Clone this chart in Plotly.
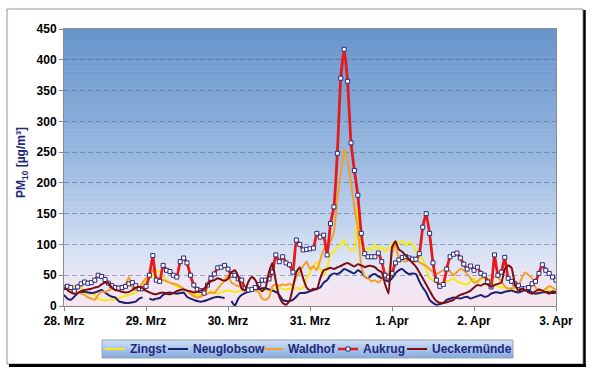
import plotly.graph_objects as go
import pandas as pd

# ---------------- data (hourly PM10 values, 28 Mar 00:00 -> 3 Apr 00:00) ----------------
START = "2008-03-28 00:00"
HOURS = 145

zingst = [
    28, 30, 30, 32, 33, 30, 22, 20, 20, 18,
    12, 10, 9, 10, 10, 11, 13, 15, 16, 18,
    20, 22, 25, 30, 40, 45, 50, 58, 55, 48,
    42, 38, 35, 32, 30, 28, 25, 22, 20, 18,
    18, 20, 22, 24, 22, 20, 22, 24, 25, 24,
    22, 24, 25, 26, 27, 26, 25, 27, 28, 26,
    25, 27, 29, 30, 28, 27, 28, 30, 29, 28,
    30, 45, 55, 63, 72, 60, 50, 60, 85, 88,
    96, 100, 107, 95, 90, 91, 165, 100, 88, 95,
    90, 100, 92, 96, 88, 95, 100, 105, 102, 106,
    98, 104, 100, 90, 80, 76, 60, 45, 42, 38,
    37, 38, 40, 42, 45, 40, 38, 36, 35, 40,
    45, 38, 42, 48, 45, 40, 35, 32, 30, 30,
    28, 26, 25, 24, 26, 28, 25, 22, 20, 20,
    24, 28, 26, 24, 22,
]

neuglobsow = [
    18, 12, 10, 15, 21, 22, 23, 22, 21, 22,
    24, 26, 22, 18, 15, 14, 8, 6, 5, 5,
    6, 7, 12, 14, None, 12, 10, 12, 13, 18,
    21, 22, 21, 20, 21, 22, 15, 12, 10, 8,
    7, 8, 10, 12, 14, 15, 14, 13, None, 8,
    0, 12, 18, 21, 23, 25, 26, 28, 29, 29,
    27, 25, 23, 18, 10, 8, 8, 10, 15, 21,
    21, 22, 24, 26, 28, 30, 38, 42, 50, 53,
    52, 55, 60, 58, 55, 53, 58, 55, 48, 45,
    50, 52, 48, 45, 42, 40, 45, 53, 58, 60,
    55, 52, 53, 52, 40, 30, 22, 10, 5, 2,
    3, 5, 10, 12, 14, 13, 12, 14, 15, 12,
    14, 16, 18, 15, 16, 20, 22, 22, 21, 23,
    24, 25, 23, 22, 24, 26, 25, 22, 20, 21,
    22, 23, 22, 21, 22,
]

waldhof = [
    30, 32, 28, 23, 22, 20, 18, 14, 12, 10,
    18, 23, 23, 25, 28, 29, 29, 30, 35, 47,
    30, 26, 30, 38, 45, 50, 58, 48, 44, 42,
    40, 38, 36, 35, 32, 28, 25, 20, 16, 14,
    15, 18, 20, 22, 21, 28, 35, 42, 50, 38,
    35, 32, 33, 30, 27, 25, 26, 22, 12, 10,
    14, 32, 35, 33, 35, 34, 36, 33, 48, 55,
    65, 72, 60, 65, 58, 75, 92, 100, 105, 120,
    175, 215, 255, 235, 200, 160, 125, 65, 48, 45,
    40, 42, 38, 43, 45, 50, 85, 100, 78, 74,
    72, 75, 70, 73, 71, 68, 65, 60, 55, 52,
    55, 58, 60, 56, 50, 55, 60, 58, 52, 45,
    38, 40, 45, 48, 44, 42, 48, 46, 40, 32,
    28, 29, 30, 32, 46, 55, 50, 45, 30, 26,
    24, 28, 32, 30, 26,
]

aukrug = [
    30, 32, 30, 24, 31, 36, 39, 37, 38, 42,
    50, 48, 43, 37, 33, 30, 29, 30, 32, 36,
    38, 33, 28, 28, 32, 50, 82, 42, 40, 66,
    58, 56, 50, 47, 72, 78, 70, 50, 34, 27,
    25, 21, 34, 45, 52, 62, 63, 66, 60, 50,
    50, 44, 42, 28, 26, 27, 30, 35, 42, 42,
    44, 55, 83, 72, 80, 70, 67, 55, 107, 100,
    91, 92, 93, 94, 118, 112, 115, 83, 134, 161,
    248, 370, 417, 365, 265, 220, 180, 118, 85, 80,
    80, 80, 86, 72, 50, 47, 53, 70, 75, 79,
    80, 78, 76, 76, 85, 128, 150, 118, 70, 42,
    32, 35, 60, 80, 84, 86, 78, 68, 60, 65,
    58, 63, 53, 50, 39, 31, 83, 50, 55, 79,
    45, 40, 36, 33, 28, 28, 30, 36, 40, 53,
    67, 58, 53, 47, 42,
]

ueckermuende = [
    30, 26, 22, 20, 21, 24, 26, 27, 28, 30,
    31, 35, 38, 37, 30, 26, 25, 23, 22, 23,
    26, 30, 31, 29, 25, 22, 20, 19, 21, 22,
    20, 19, 21, 24, 26, 27, 25, 24, 22, 23,
    25, 28, 35, 40, 42, 45, 43, 41, 44, 55,
    58, 48, 28, 26, 40, 47, 42, 30, 24, 30,
    55, 70, 40, 15, 5, 2, 8, 30, 55, 63,
    45, 30, 25, 28, 27, 45, 58, 60, 62, 60,
    63, 65, 68, 70, 67, 64, 68, 66, 63, 65,
    65, 63, 58, 55, 35, 20, 95, 105, 92, 88,
    82, 76, 70, 64, 55, 45, 35, 25, 15, 8,
    5, 5, 6, 8, 10, 15, 18, 20, 22, 25,
    30, 34, 33, 36, 35, 31, 34, 36, 38, 60,
    66, 62, 35, 25, 28, 26, 22, 20, 24, 27,
    25, 22, 20, 24, 22,
]

series_names = ["Zingst", "Neuglobsow", "Waldhof", "Aukrug", "Ueckermünde"]
tick_dates = ["2008-03-28", "2008-03-29", "2008-03-30", "2008-03-31",
              "2008-04-01", "2008-04-02", "2008-04-03"]
tick_labels = ["28. Mrz", "29. Mrz", "30. Mrz", "31. Mrz", "1. Apr", "2. Apr", "3. Apr"]
y_tick_values = [0, 50, 100, 150, 200, 250, 300, 350, 400, 450]
y_title = "PM<sub>10</sub> [µg/m³]"

# ---------------- styling ----------------
W, H = 593, 377
L, R, T, B = 64, 37, 29, 71
PW, PH = W - L - R, H - T - B
FONT = "Liberation Sans, Arial, sans-serif"
NAVY_TEXT = "#22287a"

def px(x):
    return (x - L) / PW

def py(y):
    return (H - B - y) / PH

colors = {
    "Zingst": "#f7ea14",
    "Neuglobsow": "#1e2170",
    "Waldhof": "#f2a02a",
    "Aukrug": "#e41a1c",
    "Ueckermünde": "#7c0e12",
}

times = pd.date_range(START, periods=HOURS, freq="h")
values = {
    "Zingst": zingst,
    "Neuglobsow": neuglobsow,
    "Waldhof": waldhof,
    "Aukrug": aukrug,
    "Ueckermünde": ueckermuende,
}

fig = go.Figure()
for name in series_names:
    if name == "Aukrug":
        fig.add_trace(go.Scatter(
            x=times, y=values[name], name=name, mode="lines+markers",
            line=dict(color=colors[name], width=2.8, shape="spline", smoothing=0.4),
            marker=dict(symbol="square", size=4, color="white",
                        line=dict(color="#2b2b7a", width=1)),
            showlegend=False, connectgaps=False,
        ))
    else:
        fig.add_trace(go.Scatter(
            x=times, y=values[name], name=name, mode="lines",
            line=dict(color=colors[name], width=2, shape="spline", smoothing=0.4),
            showlegend=False, connectgaps=False,
        ))

def lerp_color(stops, f):
    for (f0, c0), (f1, c1) in zip(stops[:-1], stops[1:]):
        if f0 <= f <= f1:
            t = 0 if f1 == f0 else (f - f0) / (f1 - f0)
            c = [round(a + (b - a) * t) for a, b in zip(c0, c1)]
            return "rgb(%d,%d,%d)" % tuple(c)
    return "rgb(%d,%d,%d)" % tuple(stops[-1][1])

shapes = []
# outer frame and shadow
shapes.append(dict(type="rect", xref="paper", yref="paper", layer="below",
                   x0=px(7), x1=px(583), y0=py(364), y1=py(9),
                   fillcolor="white", line=dict(color="#9090b4", width=1)))
shapes.append(dict(type="line", xref="paper", yref="paper", layer="below",
                   x0=px(584.5), x1=px(584.5), y0=py(10), y1=py(367),
                   line=dict(color="black", width=2.5)))
shapes.append(dict(type="line", xref="paper", yref="paper", layer="below",
                   x0=px(9), x1=px(586), y0=py(365.5), y1=py(365.5),
                   line=dict(color="black", width=3)))

# plot-area gradient
bg_stops = [
    (0.0, (248, 228, 238)),
    (0.08, (240, 231, 243)),
    (0.2, (214, 225, 243)),
    (0.35, (184, 205, 235)),
    (0.55, (151, 183, 223)),
    (0.8, (123, 163, 212)),
    (1.0, (103, 149, 203)),
]
N = 110
for i in range(N):
    f = (i + 0.5) / N
    shapes.append(dict(type="rect", xref="paper", yref="paper", layer="below",
                       x0=0, x1=1, y0=i / N, y1=(i + 1) / N + 0.002,
                       fillcolor=lerp_color(bg_stops, f), line=dict(width=0)))

# legend box gradient
lg_x0, lg_x1, lg_top, lg_bot = 102, 513, 340, 358
lg_stops = [(0.0, (135, 170, 220)), (0.5, (170, 198, 236)), (1.0, (208, 224, 246))]
NL = 18
for i in range(NL):
    f = (i + 0.5) / NL
    y0 = py(lg_bot) + (py(lg_top) - py(lg_bot)) * i / NL
    y1 = py(lg_bot) + (py(lg_top) - py(lg_bot)) * (i + 1) / NL
    shapes.append(dict(type="rect", xref="paper", yref="paper", layer="below",
                       x0=px(lg_x0), x1=px(lg_x1), y0=y0, y1=y1 + 0.001,
                       fillcolor=lerp_color(lg_stops, f), line=dict(width=0)))
shapes.append(dict(type="rect", xref="paper", yref="paper", layer="below",
                   x0=px(lg_x0), x1=px(lg_x1), y0=py(lg_bot), y1=py(lg_top),
                   fillcolor="rgba(0,0,0,0)", line=dict(color="#9aa2b8", width=1)))

# legend entries
legend_line_x = {"Zingst": (105, 125), "Neuglobsow": (168, 188), "Waldhof": (263, 283),
                 "Aukrug": (338, 358), "Ueckermünde": (407, 427)}
legend_text_x = {"Zingst": 128, "Neuglobsow": 191, "Waldhof": 286,
                 "Aukrug": 361, "Ueckermünde": 430}
ly = py(349)
annotations = []
for name in series_names:
    a, b = legend_line_x[name]
    shapes.append(dict(type="line", xref="paper", yref="paper", layer="above",
                       x0=px(a), x1=px(b), y0=ly, y1=ly,
                       line=dict(color=colors[name], width=2.5 if name == "Aukrug" else 2)))
    if name == "Aukrug":
        c = (a + b) / 2
        shapes.append(dict(type="rect", xref="paper", yref="paper", layer="above",
                           x0=px(c - 2), x1=px(c + 2), y0=py(351), y1=py(347),
                           fillcolor="white", line=dict(color="#2b2b7a", width=1)))
    annotations.append(dict(text=name, xref="paper", yref="paper", x=px(legend_text_x[name]),
                            y=ly, xanchor="left", yanchor="middle", showarrow=False,
                            font=dict(family=FONT, size=12, color=NAVY_TEXT, weight="bold")))

annotations.append(dict(text=y_title, xref="paper", yref="paper", x=px(22), y=py(163),
                        textangle=-90, showarrow=False, xanchor="center", yanchor="middle",
                        font=dict(family=FONT, size=12, color=NAVY_TEXT, weight="bold")))

fig.update_layout(
    width=W, height=H,
    margin=dict(l=L, r=R, t=T, b=B, pad=0),
    paper_bgcolor="white",
    plot_bgcolor="rgba(0,0,0,0)",
    shapes=shapes,
    annotations=annotations,
    showlegend=False,
    font=dict(family=FONT, size=12, color="black"),
    xaxis=dict(
        type="date", range=[tick_dates[0], tick_dates[-1]],
        tickmode="array", tickvals=tick_dates, ticktext=tick_labels,
        tickfont=dict(family=FONT, size=12, color="black", weight="bold"),
        ticks="outside", ticklen=4, tickcolor="#8a8a8a",
        showline=True, linecolor="#8a8a8a", linewidth=1, mirror=True,
        showgrid=False, zeroline=False,
    ),
    yaxis=dict(
        range=[0, 450], tickmode="array", tickvals=y_tick_values,
        tickfont=dict(family=FONT, size=12, color="black", weight="bold"),
        ticks="outside", ticklen=4, tickcolor="#8a8a8a",
        showline=True, linecolor="#8a8a8a", linewidth=1, mirror=True,
        showgrid=True, gridcolor="rgba(85,105,150,0.55)", griddash="5px,3px", gridwidth=1,
        zeroline=False,
    ),
)

fig.write_html(
    "out.html",
    config={"displayModeBar": False},
    post_script="document.body.style.margin='0';document.body.style.overflow='hidden';",
)
